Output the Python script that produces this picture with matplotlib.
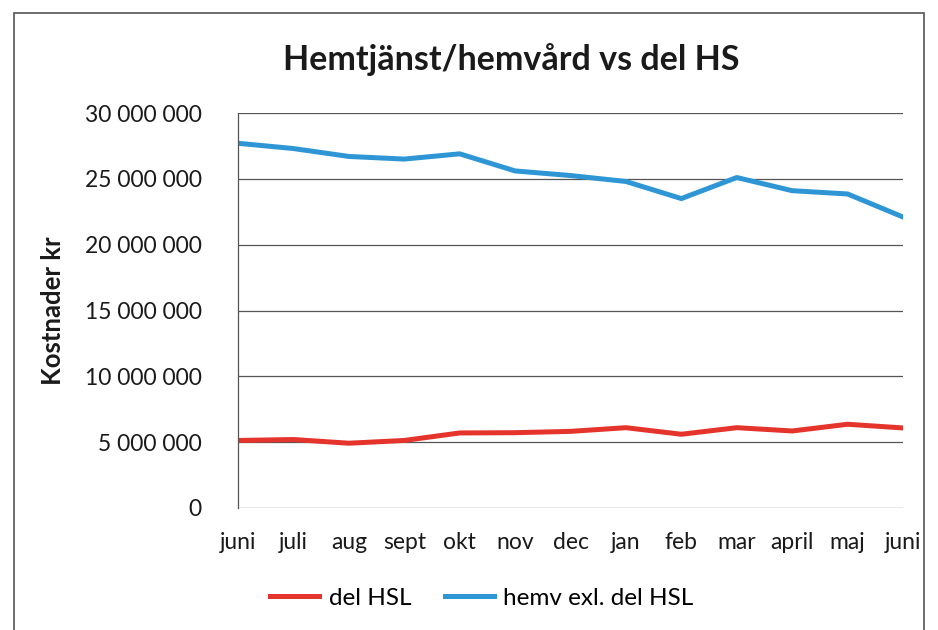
import matplotlib
matplotlib.use('Agg')
import matplotlib.pyplot as plt
from matplotlib.patches import Rectangle
from matplotlib.ticker import FuncFormatter

MONTHS = ['juni', 'juli', 'aug', 'sept', 'okt', 'nov', 'dec',
          'jan', 'feb', 'mar', 'april', 'maj', 'juni']
DEL_HSL = [5.13, 5.2, 4.92, 5.13, 5.7, 5.72, 5.82, 6.1, 5.6, 6.1, 5.85, 6.36, 6.08]
HEMV_EXL = [27.7, 27.3, 26.7, 26.5, 26.9, 25.6, 25.25, 24.8, 23.5, 25.1, 24.1, 23.85, 22.1]
YTICKS = [0, 5e6, 10e6, 15e6, 20e6, 25e6, 30e6]

RED, BLUE, INK = '#E5342C', '#2F96D6', '#1a1a1a'
plt.rcParams['font.family'] = ['Lato', 'DejaVu Sans']

fig = plt.figure(figsize=(9.38, 6.3), dpi=100)
fig.patches.append(Rectangle((14 / 938, -0.01), 910 / 938, 1 - 13 / 630 + 0.01,
                             transform=fig.transFigure, fill=False,
                             ec='#555555', lw=1.2))
ax = fig.add_axes([238 / 938, 1 - 508 / 630, 665 / 938, 395 / 630])

x = list(range(len(MONTHS)))
ax.plot(x, [v * 1e6 for v in DEL_HSL], color=RED, lw=3.6, label='del HSL',
        solid_joinstyle='round')
ax.plot(x, [v * 1e6 for v in HEMV_EXL], color=BLUE, lw=3.6,
        label='hemv exl. del HSL', solid_joinstyle='round')

ax.set_xlim(0, len(MONTHS) - 1)
ax.set_ylim(0, 30e6)
ax.set_yticks(YTICKS)
ax.yaxis.set_major_formatter(FuncFormatter(
    lambda v, _: '0' if v == 0 else f'{int(v):,}'.replace(',', ' ')))
ax.set_xticks(x)
ax.set_xticklabels(MONTHS)
ax.tick_params(length=0, labelsize=16.5, colors=INK)
ax.tick_params(axis='y', pad=26)
ax.tick_params(axis='x', pad=17)
ax.grid(axis='y', color='#555555', lw=0.9)
ax.set_axisbelow(True)
for s in ('top', 'right', 'bottom'):
    ax.spines[s].set_visible(False)
ax.spines['left'].set_color('#555555')
ax.spines['left'].set_linewidth(0.9)

ax.set_ylabel('Kostnader kr', fontsize=18.5, fontweight='bold', color=INK, labelpad=14)
fig.text(511 / 938, 1 - 60 / 630, 'Hemtjänst/hemvård vs del HS', ha='center',
         va='center', fontsize=24.5, fontweight='bold', color=INK)
fig.legend(loc='center', bbox_to_anchor=(482 / 938, 1 - 598 / 630), ncol=2,
           frameon=False, fontsize=17.5, handlelength=2.0, columnspacing=1.4,
           handletextpad=0.4)

fig.savefig('out.png', dpi=100)
